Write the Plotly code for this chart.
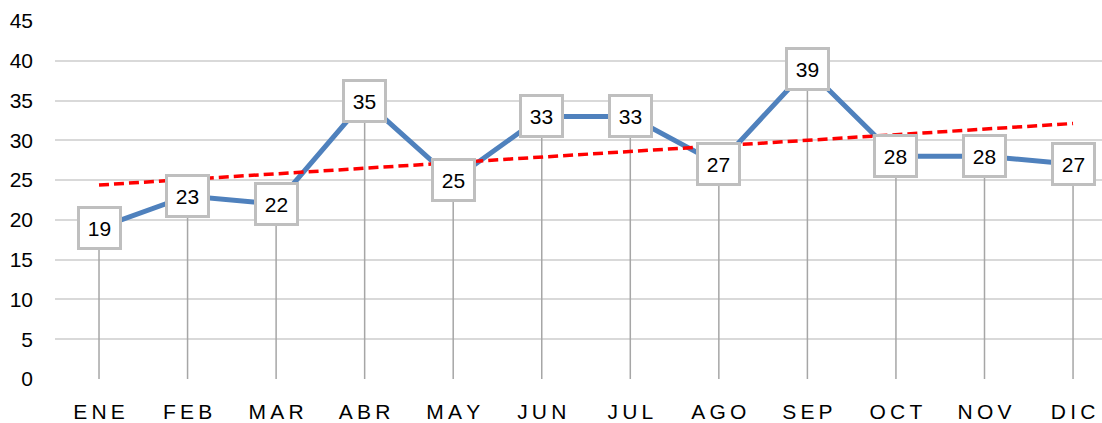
import numpy as np
import plotly.graph_objects as go

months = ["ENE", "FEB", "MAR", "ABR", "MAY", "JUN", "JUL", "AGO", "SEP", "OCT", "NOV", "DIC"]
values = [19, 23, 22, 35, 25, 33, 33, 27, 39, 28, 28, 27]
y_ticks = [0, 5, 10, 15, 20, 25, 30, 35, 40, 45]

FONT = "Liberation Sans"
xi = list(range(len(months)))
tick_text = ["\u2009".join(m) for m in months]

# linear trendline (least squares, like Excel)
slope, intercept = np.polyfit(np.array(xi, dtype=float), np.array(values, dtype=float), 1)
trend_y = [slope * x + intercept for x in xi]

fig = go.Figure()

# drop lines
dx, dy = [], []
for x, v in zip(xi, values):
    dx += [x, x, None]
    dy += [0, v, None]
fig.add_trace(go.Scatter(x=dx, y=dy, mode="lines",
                         line=dict(color="#A6A6A6", width=1.5),
                         hoverinfo="skip", showlegend=False))

fig.add_trace(go.Scatter(x=xi, y=values, mode="lines",
                         line=dict(color="#4F81BD", width=5),
                         showlegend=False))

fig.add_trace(go.Scatter(x=[xi[0], xi[-1]], y=[trend_y[0], trend_y[-1]], mode="lines",
                         line=dict(color="#FF0000", width=3.5, dash="10px,5px"),
                         showlegend=False))

for x, v in zip(xi, values):
    fig.add_annotation(x=x, y=v, xref="x", yref="y", text=str(v), showarrow=False,
                       font=dict(family=FONT, size=21, color="#000000"),
                       bgcolor="#FFFFFF", bordercolor="#BFBFBF", borderwidth=3,
                       borderpad=1, width=37, height=36,
                       xanchor="center", yanchor="middle")

fig.update_layout(
    width=1102, height=423,
    margin=dict(l=55, r=0, t=21, b=44),
    paper_bgcolor="#FFFFFF", plot_bgcolor="#FFFFFF",
    font=dict(family=FONT, size=21, color="#000000"),
    showlegend=False,
)
fig.update_xaxes(range=[-0.497, 11.327], tickvals=xi, ticktext=tick_text,
                 showgrid=False, zeroline=False, showline=False, ticks="",
                 tickfont=dict(family=FONT, size=21, color="#000000"),
                 ticklabelstandoff=18)
fig.update_yaxes(range=[0, 45], tickvals=y_ticks, showgrid=True, gridcolor="#D9D9D9",
                 gridwidth=1.5, zeroline=False, showline=False, ticks="",
                 tickfont=dict(family=FONT, size=21, color="#000000"),
                 ticklabelstandoff=21)

fig.write_html("out.html", config={"displayModeBar": False},
               post_script="document.body.style.margin='0';")
